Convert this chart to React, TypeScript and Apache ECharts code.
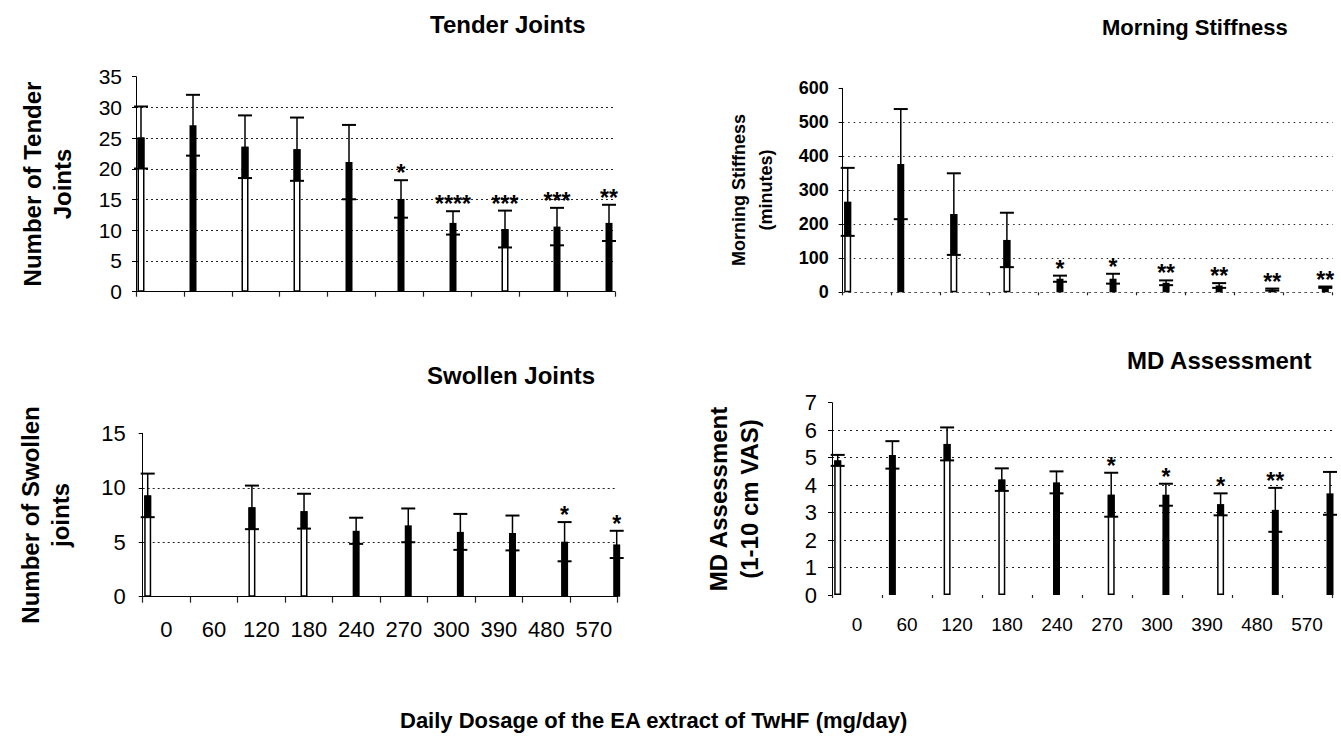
import React, { useEffect, useRef } from "react";
import * as echarts from "echarts";

// ---------- data ----------
const doses = ["0", "60", "120", "180", "240", "270", "300", "390", "480", "570"];

const tenderMean = [25.1, 27.1, 23.6, 23.2, 21.1, 15.1, 11.2, 10.2, 10.6, 11.2];
const tenderSD = [5.05, 4.95, 5.1, 5.15, 6.05, 3.05, 1.9, 3.0, 3.05, 2.95];
const tenderStars = ["", "", "", "", "", "*", "****", "***", "***", "**"];

const stiffMean = [266, 377, 230, 154, 40, 40, 28, 20, 8, 15];
const stiffSD = [100, 162, 120, 80, 9, 14.5, 7, 7, 3, 2];
const stiffStars = ["", "", "", "", "*", "*", "**", "**", "**", "**"];

const swollenMean = [9.3, 0, 8.2, 7.85, 6.05, 6.55, 5.95, 5.85, 5.05, 4.8];
const swollenSD = [2.0, 0, 2.0, 1.6, 1.2, 1.55, 1.65, 1.6, 1.8, 1.25];
const swollenStars = ["", "", "", "", "", "", "", "", "*", "*"];

const mdMean = [4.9, 5.1, 5.5, 4.2, 4.1, 3.65, 3.65, 3.3, 3.1, 3.7];
const mdSD = [0.2, 0.5, 0.6, 0.41, 0.4, 0.8, 0.4, 0.4, 0.8, 0.78];
const mdStars = ["", "", "", "", "", "*", "*", "*", "**", ""];

const titles = ["Tender Joints", "Morning Stiffness", "Swollen Joints", "MD Assessment"];
const yNames = [
  "Number of Tender\nJoints",
  "Morning Stiffness\n(minutes)",
  "Number of Swollen\njoints",
  "MD Assessment\n(1-10 cm VAS)",
];
const xTitle = "Daily Dosage of the EA extract of TwHF (mg/day)";

// ---------- styling ----------
const FONT = "'Liberation Sans', Arial, Helvetica, sans-serif";
// bars drawn hollow (white fill, dark outline) in the scanned original
const hollowTender = [0, 2, 3, 7];
const hollowStiff = [0, 2, 3];
const hollowSwollen = [0, 2, 3];
const hollowMd = [0, 2, 3, 5, 7];

type Panel = {
  frame: { left: number; top: number; width: number; height: number };
  bars: { left: number; width: number };
  yMax: number;
  yInterval: number;
  mean: number[];
  sd: number[];
  stars: string[];
  hollow: number[];
  yLabelSize: number;
  yLabelBold: boolean;
  yLabelMargin: number;
  showXLabels: boolean;
  xLabelSize: number;
  xLabelMargin: number;
  xLine: "solid" | "dotted" | "none";
  xTickLen: number;
  gridDash: number[];
};

const panels: Panel[] = [
  {
    frame: { left: 136, top: 76.7, width: 479, height: 215 },
    bars: { left: 141, width: 468 },
    yMax: 35, yInterval: 5,
    mean: tenderMean, sd: tenderSD, stars: tenderStars, hollow: hollowTender,
    yLabelSize: 21, yLabelBold: false, yLabelMargin: 14,
    showXLabels: false, xLabelSize: 20, xLabelMargin: 20,
    xLine: "solid", xTickLen: 5, gridDash: [2, 3],
  },
  {
    frame: { left: 842.7, top: 88.3, width: 490, height: 204 },
    bars: { left: 847.7, width: 477.6 },
    yMax: 600, yInterval: 100,
    mean: stiffMean, sd: stiffSD, stars: stiffStars, hollow: hollowStiff,
    yLabelSize: 18, yLabelBold: true, yLabelMargin: 14,
    showXLabels: false, xLabelSize: 18, xLabelMargin: 20,
    xLine: "dotted", xTickLen: 3, gridDash: [1.5, 4],
  },
  {
    frame: { left: 142.7, top: 433.3, width: 475, height: 163.4 },
    bars: { left: 147.7, width: 469 },
    yMax: 15, yInterval: 5,
    mean: swollenMean, sd: swollenSD, stars: swollenStars, hollow: hollowSwollen,
    yLabelSize: 22, yLabelBold: false, yLabelMargin: 17,
    showXLabels: true, xLabelSize: 22, xLabelMargin: 22,
    xLine: "solid", xTickLen: 6, gridDash: [2, 3],
  },
  {
    frame: { left: 832, top: 402.7, width: 500, height: 192.3 },
    bars: { left: 837.7, width: 492.3 },
    yMax: 7, yInterval: 1,
    mean: mdMean, sd: mdSD, stars: mdStars, hollow: hollowMd,
    yLabelSize: 22, yLabelBold: false, yLabelMargin: 15,
    showXLabels: true, xLabelSize: 19, xLabelMargin: 20,
    xLine: "none", xTickLen: 3, gridDash: [2, 4],
  },
];

const BAR_W = 7;

function buildOption() {
  const grid: any[] = [];
  const xAxis: any[] = [];
  const yAxis: any[] = [];
  const series: any[] = [];

  panels.forEach((p, k) => {
    const fi = 2 * k;
    const bi = 2 * k + 1;
    grid.push({ left: p.frame.left, top: p.frame.top, width: p.frame.width, height: p.frame.height, containLabel: false });
    grid.push({ left: p.bars.left, top: p.frame.top, width: p.bars.width, height: p.frame.height, containLabel: false });

    xAxis.push({
      type: "category",
      gridIndex: fi,
      data: doses,
      boundaryGap: true,
      axisLine: {
        show: p.xLine !== "none",
        lineStyle: { color: p.xLine === "dotted" ? "#555" : "#000", width: 1, type: p.xLine === "dotted" ? [2, 4] : "solid" },
      },
      axisTick: { show: true, length: p.xTickLen, lineStyle: { color: "#222", width: 1.2 } },
      axisLabel: {
        show: p.showXLabels,
        fontSize: p.xLabelSize,
        lineHeight: p.xLabelSize,
        fontFamily: FONT,
        color: "#000",
        margin: p.xLabelMargin,
        interval: 0,
      },
      splitLine: { show: false },
    });
    xAxis.push({ type: "category", gridIndex: bi, data: doses, boundaryGap: false, show: false });

    yAxis.push({
      type: "value",
      gridIndex: fi,
      min: 0,
      max: p.yMax,
      interval: p.yInterval,
      axisLine: { show: true, lineStyle: { color: "#000", width: 1 } },
      axisTick: { show: true, length: 4, lineStyle: { color: "#000" } },
      axisLabel: {
        fontSize: p.yLabelSize,
        fontWeight: p.yLabelBold ? "bold" : "normal",
        fontFamily: FONT,
        color: "#000",
        margin: p.yLabelMargin,
      },
      splitLine: {
        show: true,
        showMaxLine: false,
        showMinLine: false,
        lineStyle: { color: "#222", width: 1, type: p.gridDash },
      },
    });
    yAxis.push({ type: "value", gridIndex: bi, min: 0, max: p.yMax, interval: p.yInterval, show: false });

    const hollow = p.hollow;
    series.push({
      type: "bar",
      xAxisIndex: bi,
      yAxisIndex: bi,
      data: p.mean.map((v, i) =>
        hollow.indexOf(i) >= 0
          ? { value: v, itemStyle: { color: "#fff", borderColor: "#000", borderWidth: 1.5 } }
          : v
      ),
      barWidth: BAR_W,
      itemStyle: { color: "#000" },
      z: 3,
    });

    const mean = p.mean;
    const sd = p.sd;
    const stars = p.stars;
    series.push({
      type: "custom",
      xAxisIndex: bi,
      yAxisIndex: bi,
      z: 5,
      clip: false,
      data: mean.map((m, i) => [i, m]),
      encode: { x: 0, y: 1 },
      renderItem: (params: any, api: any) => {
        const i = params.dataIndex;
        const m = mean[i];
        const s = sd[i];
        const pt = api.coord([i, m]);
        const x = pt[0];
        const yMean = pt[1];
        const yHi = api.coord([i, m + s])[1];
        const yLo = api.coord([i, Math.max(0, m - s)])[1];
        const children: any[] = [];
        if (s > 0) {
          if (hollow.indexOf(i) >= 0) {
            children.push({
              type: "rect",
              shape: { x: x - BAR_W / 2, y: yMean, width: BAR_W, height: yLo - yMean },
              style: { fill: "#000" },
            });
          }
          children.push({ type: "line", shape: { x1: x, y1: yLo, x2: x, y2: yHi }, style: { stroke: "#000", lineWidth: 1.5 } });
          children.push({ type: "line", shape: { x1: x - 7, y1: yHi, x2: x + 7, y2: yHi }, style: { stroke: "#000", lineWidth: 2 } });
          children.push({ type: "line", shape: { x1: x - 7, y1: yLo, x2: x + 7, y2: yLo }, style: { stroke: "#000", lineWidth: 2 } });
        }
        if (stars[i]) {
          children.push({
            type: "text",
            x: x,
            y: yHi - 7,
            style: {
              text: stars[i],
              fill: "#000",
              font: `bold 23px ${FONT}`,
              align: "center",
              verticalAlign: "middle",
            },
          });
        }
        return { type: "group", children };
      },
    });
  });

  const txt = (text: string, x: number, y: number, size: number, align = "left", rotation = 0, lineHeight?: number) => ({
    type: "text",
    x,
    y,
    rotation,
    style: {
      text,
      fill: "#000",
      font: `bold ${size}px ${FONT}`,
      align,
      verticalAlign: "middle",
      lineHeight: lineHeight || size * 1.2,
    },
  });

  const graphic = [
    txt(titles[0], 430, 24, 24),
    txt(titles[1], 1102, 27, 22),
    txt(titles[2], 427, 375, 24),
    txt(titles[3], 1127, 360, 24),
    txt(xTitle, 400, 720, 22),
    txt(yNames[0], 47, 184, 24, "center", Math.PI / 2, 30),
    txt(yNames[1], 752, 190, 18, "center", Math.PI / 2, 27),
    txt(yNames[2], 45, 515, 24, "center", Math.PI / 2, 30),
    txt(yNames[3], 734, 499, 24, "center", Math.PI / 2, 31),
  ];

  return {
    animation: false,
    backgroundColor: "#fff",
    textStyle: { fontFamily: FONT },
    grid,
    xAxis,
    yAxis,
    series,
    graphic,
  };
}

export default function App() {
  const ref = useRef<HTMLDivElement>(null);
  useEffect(() => {
    if (!ref.current) return;
    const chart = echarts.init(ref.current, undefined, { renderer: "svg" });
    chart.setOption(buildOption() as any);
    return () => chart.dispose();
  }, []);
  return (
    <div
      ref={ref}
      style={{ position: "absolute", left: 0, top: 0, width: 1341, height: 736, background: "#fff" }}
    />
  );
}
